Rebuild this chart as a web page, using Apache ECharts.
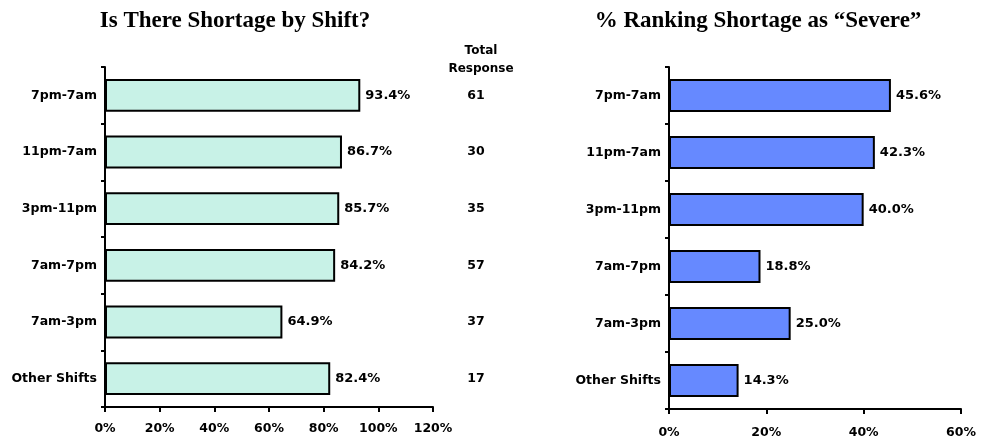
<!DOCTYPE html>
<html>
<head>
<meta charset="utf-8">
<script src="https://cdn.jsdelivr.net/npm/echarts@6/dist/echarts.min.js"></script>
<style>
  html, body { margin: 0; padding: 0; background: #fff; }
  #chart { width: 990px; height: 441px; }
</style>
</head>
<body>
<div id="chart"></div>
<script>
// shifts, listed top to bottom
var shifts = ['7pm-7am', '11pm-7am', '3pm-11pm', '7am-7pm', '7am-3pm', 'Other Shifts']
var shortagePct = [93.4, 86.7, 85.7, 84.2, 64.9, 82.4]
var severePct = [45.6, 42.3, 40.0, 18.8, 25.0, 14.3]
var totalResponse = [61, 30, 35, 57, 37, 17]

var labelFont = 'DejaVu Sans'
var axisColor = '#000'

function catAxis(gridIndex, show) {
  return {
    type: 'category',
    gridIndex: gridIndex,
    data: shifts,
    inverse: true,
    show: show,
    axisLine: { lineStyle: { color: axisColor, width: 2 } },
    axisTick: { show: true, length: 4, lineStyle: { color: axisColor, width: 2 } },
    axisLabel: { color: '#000', fontFamily: labelFont, fontWeight: 'bold', fontSize: 12.5, margin: 8 }
  }
}

function valAxis(gridIndex, max, margin) {
  return {
    type: 'value',
    gridIndex: gridIndex,
    min: 0,
    max: max,
    interval: 20,
    splitLine: { show: false },
    axisLine: { show: true, lineStyle: { color: axisColor, width: 2 } },
    axisTick: { show: true, length: 5, lineStyle: { color: axisColor, width: 2 } },
    axisLabel: { color: '#000', fontFamily: labelFont, fontWeight: 'bold', fontSize: 12.5, margin: margin,
      formatter: '{value}%' }
  }
}

var barLabel = {
  show: true,
  position: 'right',
  distance: 5,
  color: '#000',
  fontFamily: labelFont,
  fontWeight: 'bold',
  fontSize: 13,
  formatter: function (p) { return p.value.toFixed(1) + '%' }
}

var option = {
  animation: false,
  title: [
    {
      text: 'Is There Shortage by Shift?',
      left: 230, top: 5, textAlign: 'center',
      textStyle: { fontFamily: 'Liberation Serif', fontWeight: 'bold', fontSize: 23, color: '#000' }
    },
    {
      text: '% Ranking Shortage as \u201cSevere\u201d',
      left: 753, top: 5, textAlign: 'center',
      textStyle: { fontFamily: 'Liberation Serif', fontWeight: 'bold', fontSize: 23, color: '#000' }
    },
    {
      text: 'Total\nResponse',
      left: 476, top: 37, textAlign: 'center',
      textStyle: { fontFamily: labelFont, fontWeight: 'bold', fontSize: 12, lineHeight: 18, color: '#000' }
    }
  ],
  grid: [
    { left: 105, right: 557, top: 67, bottom: 34 },
    { left: 669, right: 29, top: 67, bottom: 32 },
    { left: 454, width: 44, top: 67, bottom: 34 }
  ],
  xAxis: [
    valAxis(0, 120, 15),
    valAxis(1, 60, 17),
    { type: 'value', gridIndex: 2, min: 0, max: 1, show: false }
  ],
  yAxis: [
    catAxis(0, true),
    catAxis(1, true),
    catAxis(2, false)
  ],
  series: [
    {
      type: 'bar',
      xAxisIndex: 0, yAxisIndex: 0,
      data: shortagePct,
      barCategoryGap: '42%',
      itemStyle: { color: '#C8F2E7', borderColor: '#000', borderWidth: 2 },
      label: barLabel
    },
    {
      type: 'bar',
      xAxisIndex: 1, yAxisIndex: 1,
      data: severePct,
      barCategoryGap: '42%',
      itemStyle: { color: '#6689FF', borderColor: '#000', borderWidth: 2 },
      label: barLabel
    },
    {
      type: 'scatter',
      xAxisIndex: 2, yAxisIndex: 2,
      symbolSize: 0,
      itemStyle: { opacity: 1 },
      data: totalResponse.map(function (n, i) { return { value: [0.5, i], count: n } }),
      label: {
        show: true,
        position: 'inside',
        color: '#000',
        fontFamily: labelFont,
        fontWeight: 'bold',
        fontSize: 12.5,
        offset: [0, 0],
        formatter: function (p) { return String(p.data.count) }
      }
    }
  ]
}

var chart = echarts.init(document.getElementById('chart'))
chart.setOption(option)
</script>
</body>
</html>
